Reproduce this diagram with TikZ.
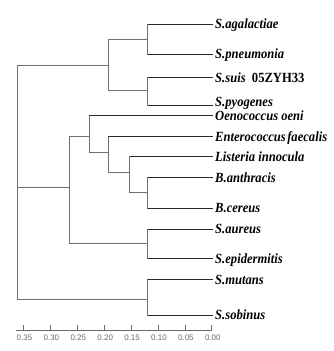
\documentclass[tikz,border=0pt]{standalone}
\usepackage{fontspec}
\setmainfont{Liberation Serif}
\newfontfamily\labfont{Liberation Serif}[FakeStretch=0.9]
\newfontfamily\axfont{Liberation Sans}
\definecolor{branchgray}{HTML}{707070}
\definecolor{tipgray}{HTML}{2A2A2A}
\definecolor{axisgray}{HTML}{6A6A6A}
\begin{document}
\begin{tikzpicture}[x=1pt,y=-1pt,
  branch/.style={draw=branchgray, line width=0.9pt},
  tipline/.style={draw=tipgray, line width=0.9pt},
  leaf/.style={anchor=base west, inner sep=0pt, text=black,
    font=\labfont\bfseries\itshape\fontsize{14}{16}\selectfont},
  axisline/.style={draw=axisgray, line width=0.8pt},
  tickmark/.style={draw=axisgray, line width=0.8pt},
  ticklab/.style={inner sep=0pt, text=axisgray, font=\axfont\fontsize{8}{9}\selectfont}]
\useasboundingbox (0,0) rectangle (334,351);
% leaf ends
\coordinate (l1) at (212.5,24);
\coordinate (l2) at (212.5,54);
\coordinate (l3) at (212.5,77.3);
\coordinate (l4) at (212.5,105.5);
\coordinate (l5) at (212.5,115.7);
\coordinate (l6) at (212.5,136.5);
\coordinate (l7) at (212.5,156.7);
\coordinate (l8) at (212.5,177.3);
\coordinate (l9) at (212.5,208.2);
\coordinate (l10) at (212.5,229);
\coordinate (l11) at (212.5,258.7);
\coordinate (l12) at (212.5,279.3);
\coordinate (l13) at (212.5,315);
% internal nodes
\coordinate (nA) at (147.7,39.3);
\coordinate (nB) at (147.7,90);
\coordinate (nC) at (108,65.3);
\coordinate (nD) at (147.7,192.7);
\coordinate (nE) at (129.5,172);
\coordinate (nF) at (108.3,152.3);
\coordinate (nG) at (89.3,136);
\coordinate (nH) at (147.7,243.7);
\coordinate (nM) at (69,187.7);
\coordinate (nZ) at (147.7,299.7);
\coordinate (nR) at (17,187.7);
% labels
\node[leaf] (t1) at ([shift={(2.5,4.7)}]l1) {S.agalactiae};
\node[leaf] (t2) at ([shift={(2.5,4.7)}]l2) {S.pneumonia};
\node[leaf] (t3) at ([shift={(2.5,4.7)}]l3) {S.suis\hspace{0.45em}{\upshape 05ZYH33}};
\node[leaf] (t4) at ([shift={(2.5,0.6)}]l4) {S.pyogenes};
\node[leaf] (t5) at ([shift={(2.5,4.9)}]l5) {Oenococcus oeni};
\node[leaf] (t6) at ([shift={(2.5,4.7)}]l6) {Enterococcus\hspace{0.1em}faecalis};
\node[leaf] (t7) at ([shift={(2.5,4.7)}]l7) {Listeria innocula};
\node[leaf] (t8) at ([shift={(2.5,4.7)}]l8) {B.anthracis};
\node[leaf] (t9) at ([shift={(2.5,4.7)}]l9) {B.cereus};
\node[leaf] (t10) at ([shift={(2.5,4.7)}]l10) {S.aureus};
\node[leaf] (t11) at ([shift={(2.5,4.7)}]l11) {S.epidermitis};
\node[leaf] (t12) at ([shift={(2.5,4.7)}]l12) {S.mutans};
\node[leaf] (t13) at ([shift={(2.5,4.7)}]l13) {S.sobinus};
% branches (vertical + internal horizontals)
\draw[branch] (nA) |- (l1) (nA) |- (l2);
\draw[branch] (nB) |- (l3) (nB) |- (l4);
\draw[branch] (nC) |- (nA) (nC) |- (nB);
\draw[branch] (nD) |- (l8) (nD) |- (l9);
\draw[branch] (nE) |- (l7) (nE) |- (nD);
\draw[branch] (nF) |- (l6) (nF) |- (nE);
\draw[branch] (nG) |- (l5) (nG) |- (nF);
\draw[branch] (nH) |- (l10) (nH) |- (l11);
\draw[branch] (nM) |- (nG) (nM) |- (nH);
\draw[branch] (nZ) |- (l12) (nZ) |- (l13);
\draw[branch] (nR) |- (nC) (nR) -- (nM) (nR) |- (nZ);
% darker tip lines
\draw[tipline] (nA |- l1) -- (l1) (nA |- l2) -- (l2);
\draw[tipline] (nB |- l3) -- (l3) (nB |- l4) -- (l4);
\draw[tipline] (nG |- l5) -- (l5);
\draw[tipline] (nF |- l6) -- (l6);
\draw[tipline] (nE |- l7) -- (l7);
\draw[tipline] (nD |- l8) -- (l8) (nD |- l9) -- (l9);
\draw[tipline] (nH |- l10) -- (l10) (nH |- l11) -- (l11);
\draw[tipline] (nZ |- l12) -- (l12) (nZ |- l13) -- (l13);
% scale axis
\coordinate (ax0) at (16,330);
\coordinate (ax1) at (212.3,330);
\draw[axisline] (ax0) -- (ax1);
\foreach \x/\t [count=\k] in {23.5/0.35, 50.4/0.30, 77.3/0.25, 104.2/0.20, 131.1/0.15, 158/0.10, 184.9/0.05, 211.8/0.00}{
  \coordinate (tk\k) at (\x,330);
  \draw[tickmark] (tk\k) -- ++(0,-5);
  \node[ticklab] (tl\k) at ([shift={(1,7.5)}]tk\k) {\t};
}
\end{tikzpicture}
\end{document}
